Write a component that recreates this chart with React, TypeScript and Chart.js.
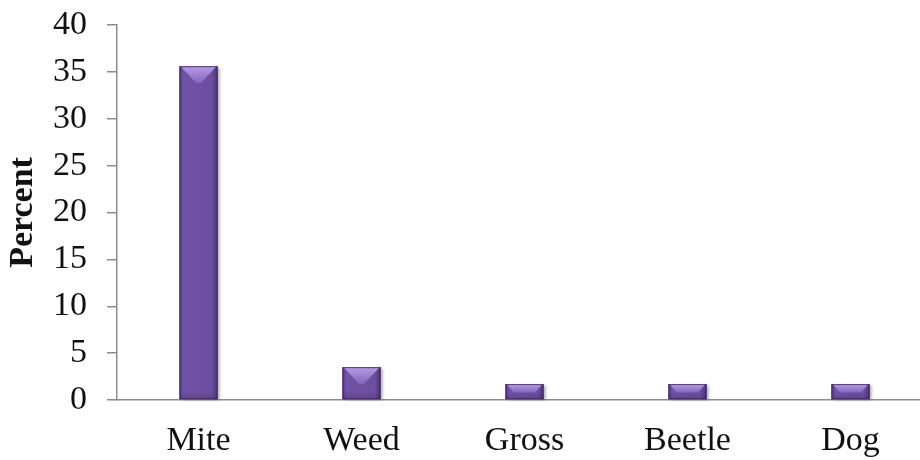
import React, { useEffect, useRef } from "react";
import { Chart, registerables } from "chart.js";

Chart.register(...registerables);

const categories = ["Mite", "Weed", "Gross", "Beetle", "Dog"];
const percentValues = [35.6, 3.5, 1.7, 1.7, 1.7];
const yTicks = [0, 5, 10, 15, 20, 25, 30, 35, 40];
const yTitle = "Percent";

const FACE = "#6E50A2";

const bevelPlugin = {
  id: "bevel",
  beforeDatasetsDraw(chart: any) {
    const ctx = chart.ctx;
    const meta = chart.getDatasetMeta(0);
    ctx.save();
    meta.data.forEach((bar: any) => {
      const { x, y, base, width } = bar.getProps(["x", "y", "base", "width"], true);
      const l = x - width / 2;
      const t = Math.min(y, base);
      const h = Math.abs(base - y);
      ctx.shadowColor = "rgba(0,0,0,0.35)";
      ctx.shadowBlur = 3;
      ctx.shadowOffsetX = 2;
      ctx.shadowOffsetY = 1;
      ctx.fillStyle = FACE;
      ctx.fillRect(l, t, width, h);
    });
    ctx.restore();
  },
  afterDatasetsDraw(chart: any) {
    const ctx = chart.ctx;
    const meta = chart.getDatasetMeta(0);
    ctx.save();
    meta.data.forEach((bar: any) => {
      const { x, y, base, width } = bar.getProps(["x", "y", "base", "width"], true);
      const l = x - width / 2;
      const r = x + width / 2;
      const t = Math.min(y, base);
      const b = Math.max(y, base);
      const h = b - t;
      const d = Math.min(width * 0.44, h * 0.55);
      const g = ctx.createLinearGradient(l, 0, r, 0);
      g.addColorStop(0, "#553A82");
      g.addColorStop(0.1, "#7052A6");
      g.addColorStop(0.85, "#6D4F9F");
      g.addColorStop(1, "#4C3374");
      ctx.fillStyle = g;
      ctx.fillRect(l, t, width, h);
      const gbot = ctx.createLinearGradient(0, b - 8, 0, b);
      gbot.addColorStop(0, "rgba(50,30,80,0)");
      gbot.addColorStop(1, "rgba(50,30,80,0.25)");
      ctx.fillStyle = gbot;
      ctx.fillRect(l, Math.max(t, b - 8), width, Math.min(8, h));
      const gt = ctx.createLinearGradient(0, t, 0, t + d);
      gt.addColorStop(0, "#B59CE6");
      gt.addColorStop(1, "#8466BE");
      ctx.fillStyle = gt;
      ctx.beginPath();
      ctx.moveTo(l + 1, t);
      ctx.lineTo(r - 1, t);
      ctx.lineTo(r - d, t + d);
      ctx.lineTo(l + d, t + d);
      ctx.closePath();
      ctx.fill();
      ctx.strokeStyle = "rgba(55,32,90,0.75)";
      ctx.lineWidth = 1;
      ctx.strokeRect(l + 0.5, t + 0.5, width - 1, h - 1);
    });
    ctx.restore();
  },
};

export default function App() {
  const ref = useRef<HTMLCanvasElement | null>(null);
  useEffect(() => {
    if (!ref.current) return;
    const chart = new Chart(ref.current, {
      type: "bar",
      data: {
        labels: categories,
        datasets: [
          {
            data: percentValues,
            backgroundColor: "rgba(0,0,0,0)",
            borderWidth: 0,
            barThickness: 38,
          },
        ],
      },
      plugins: [bevelPlugin],
      options: {
        responsive: false,
        animation: false,
        devicePixelRatio: 1,
        layout: { padding: { top: 25, right: 3, left: 0, bottom: 0 } },
        plugins: { legend: { display: false }, tooltip: { enabled: false } },
        scales: {
          x: {
            grid: { display: false, drawTicks: false },
            border: { display: true, color: "#8C8C8C", width: 1.5 },
            ticks: {
              color: "#111",
              padding: 21,
              font: { family: "'Liberation Serif', 'Times New Roman', serif", size: 34 },
              maxRotation: 0,
            },
            afterFit: (s: any) => {
              s.height = 60;
              s.paddingLeft = 0;
              s.paddingRight = 0;
            },
          },
          y: {
            min: 0,
            max: 40,
            afterBuildTicks: (s: any) => {
              s.ticks = yTicks.map((v) => ({ value: v }));
            },
            grid: {
              display: true,
              drawOnChartArea: false,
              drawTicks: true,
              tickLength: 10,
              color: "#8C8C8C",
              lineWidth: 1.5,
            },
            border: { display: true, color: "#8C8C8C", width: 1.5 },
            ticks: {
              color: "#111",
              padding: 20,
              font: { family: "'Liberation Serif', 'Times New Roman', serif", size: 34 },
            },
            title: {
              display: true,
              text: yTitle,
              color: "#111",
              padding: { top: 3, bottom: 0 },
              font: { family: "'Liberation Serif', 'Times New Roman', serif", size: 34, weight: "bold" },
            },
            afterFit: (s: any) => {
              s.width = 117;
              s.paddingTop = 0;
              s.paddingBottom = 0;
            },
          },
        },
      },
    } as any);
    return () => chart.destroy();
  }, []);
  return (
    <div
      style={{
        position: "absolute",
        left: 0,
        top: 0,
        width: 920,
        height: 460,
        overflow: "hidden",
        background: "#fff",
      }}
    >
      <canvas ref={ref} width={935} height={460} style={{ display: "block" }} />
    </div>
  );
}
